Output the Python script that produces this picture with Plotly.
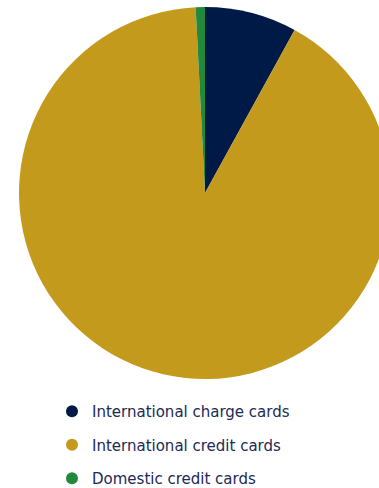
import plotly.graph_objects as go

labels = ["International charge cards", "International credit cards", "Domestic credit cards"]
values = [8.0, 91.2, 0.8]
colors = ["#001a48", "#c39a1b", "#21893c"]

fig = go.Figure()
fig.add_trace(go.Pie(
    labels=labels,
    values=values,
    sort=False,
    direction="clockwise",
    rotation=0,
    marker=dict(colors=colors, line=dict(width=0)),
    textinfo="none",
    hoverinfo="label+percent",
    showlegend=False,
    domain=dict(x=[0, 1], y=[109/481, 1]),
))

# legend entries with circle markers
for i, (lab, col) in enumerate(zip(labels, colors)):
    fig.add_trace(go.Scatter(
        x=[None], y=[None], mode="markers", name=lab,
        marker=dict(symbol="circle", size=12, color=col),
        legendgroup=f"g{i}", showlegend=True,
    ))

fig.update_layout(
    width=410,
    height=488,
    margin=dict(l=19, r=19, t=7, b=0, autoexpand=False),
    paper_bgcolor="white",
    plot_bgcolor="rgba(0,0,0,0)",
    xaxis=dict(visible=False),
    yaxis=dict(visible=False),
    showlegend=True,
    legend=dict(
        x=(52 - 19) / 372, xanchor="left",
        y=93 / 481, yanchor="top",
        font=dict(family="DejaVu Sans", size=15, color="#1c2a55"),
        itemwidth=30,
        tracegroupgap=11,
        bgcolor="rgba(0,0,0,0)",
    ),
    font=dict(family="DejaVu Sans"),
)

fig.write_html("out.html")
